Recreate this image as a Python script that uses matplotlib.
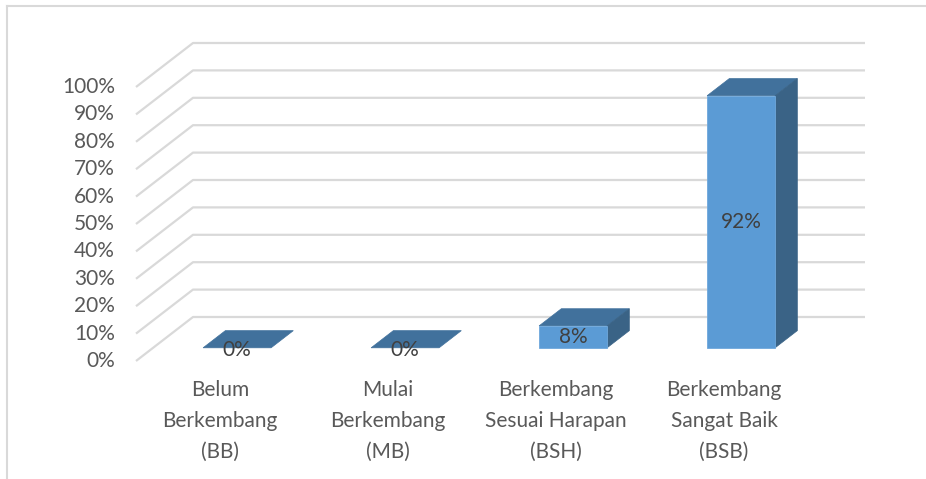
import numpy as np
import matplotlib.pyplot as plt
from matplotlib.patches import Polygon
from matplotlib.lines import Line2D

categories = ['Belum\nBerkembang\n(BB)', 'Mulai\nBerkembang\n(MB)',
              'Berkembang\nSesuai Harapan\n(BSH)', 'Berkembang\nSangat Baik\n(BSB)']
values = [0, 0, 8, 92]
labels = ['0%', '0%', '8%', '92%']
yticks = np.arange(0, 101, 10)

plt.rcParams['font.family'] = ['Lato', 'DejaVu Sans']

W, H = 926, 479
fig = plt.figure(figsize=(W / 100, H / 100), dpi=100)
ax = fig.add_axes([0, 0, 1, 1])
ax.axis('off')

# pixel geometry of the front plane
x0_px, cat_px = 136, 168        # left edge of floor, px per category
y0_px, unit_px = 361, 2.74      # 0% line, px per percent
ax.set_xlim((0 - x0_px) / cat_px - 0.5, (W - x0_px) / cat_px - 0.5)
ax.set_ylim((y0_px - H) / unit_px, y0_px / unit_px)

# oblique depth offset (full depth of chart)
dx = 57 / cat_px
dy = 44 / unit_px
n = len(categories)
left, right = -0.5, n - 0.5

grid_c = '#D9D9D9'
for v in yticks:
    ax.plot([left, left + dx, right + dx], [v, v + dy, v + dy],
            color=grid_c, lw=1.6, solid_capstyle='butt', zorder=1)
    ax.text(left - 21 / cat_px, v, f'{v}%', ha='right', va='center',
            fontsize=15, color='#595959')

front_c = '#5B9BD5'
top_c = '#41719C'
side_c = '#3A6386'
bw = 68 / cat_px
f0, fd = 0.30, 0.39   # bar front depth fraction, bar depth fraction

for i, (v, lab) in enumerate(zip(values, labels)):
    bx = i - bw / 2 + f0 * dx
    by = f0 * dy
    ox, oy = fd * dx, fd * dy
    top = [(bx, by + v), (bx + bw, by + v), (bx + bw + ox, by + v + oy), (bx + ox, by + v + oy)]
    ax.add_patch(Polygon(top, closed=True, fc=top_c, ec=top_c, lw=0.5, zorder=3))
    if v > 0:
        side = [(bx + bw, by), (bx + bw + ox, by + oy), (bx + bw + ox, by + v + oy), (bx + bw, by + v)]
        ax.add_patch(Polygon(side, closed=True, fc=side_c, ec=side_c, lw=0.5, zorder=3))
        front = [(bx, by), (bx + bw, by), (bx + bw, by + v), (bx, by + v)]
        ax.add_patch(Polygon(front, closed=True, fc=front_c, ec='#6FA8DC', lw=0.6, zorder=4))
    ax.text(i + f0 * dx, by + v / 2 - (0.8 if v == 0 else 0), lab, ha='center', va='center',
            fontsize=15, color='#404040', zorder=5)

for i, cat in enumerate(categories):
    ax.text(i, -7.0, cat, ha='center', va='top', fontsize=15,
            color='#595959', linespacing=1.68)

# chart frame (top and left edges visible)
fig.add_artist(Line2D([7 / W, 1], [1 - 6 / H, 1 - 6 / H], color=grid_c, lw=1.5))
fig.add_artist(Line2D([7 / W, 7 / W], [0, 1 - 6 / H], color=grid_c, lw=1.5))

fig.savefig('out.png', dpi=100)
